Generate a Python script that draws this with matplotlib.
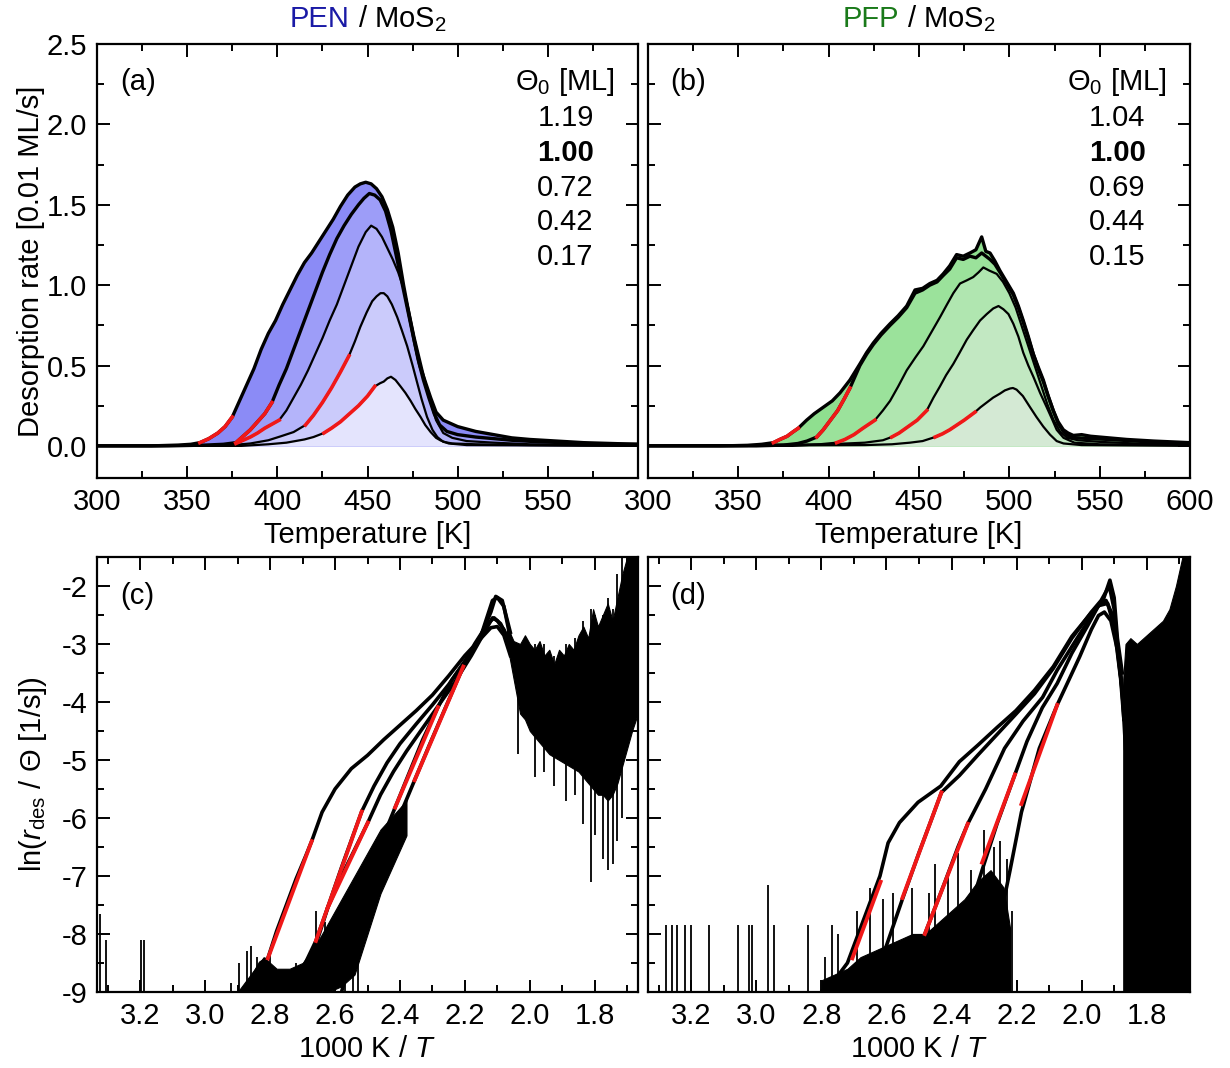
import numpy as np
import matplotlib
matplotlib.use("Agg")
import matplotlib.pyplot as plt
from matplotlib.ticker import MultipleLocator, FixedLocator

plt.rcParams['font.family'] = ['Liberation Sans', 'DejaVu Sans']
plt.rcParams['mathtext.fontset'] = 'custom'
plt.rcParams['mathtext.rm'] = 'Liberation Sans'
plt.rcParams['mathtext.it'] = 'Liberation Sans:italic'
plt.rcParams['mathtext.bf'] = 'Liberation Sans:bold'
plt.rcParams['axes.unicode_minus'] = False
FS = 21

###### Panel (a): PEN / MoS2, TPD traces (rate in 0.01 ML/s) ######
pen_cov = ["1.19", "1.00", "0.72", "0.42", "0.17"]
pen_T119 = [300, 330, 345, 352, 357, 362, 367, 371, 375, 379, 383, 387, 391, 395, 399, 403, 407, 411, 415, 419,
            423, 427, 431, 435, 439, 443, 446, 449, 452, 455, 458, 461, 464, 467, 470, 473, 476, 479, 482, 485,
            488, 492, 496, 500, 510, 520, 530, 540, 555, 570, 585, 600]
pen_r119 = [0.0, 0.0, 0.005, 0.01, 0.02, 0.045, 0.08, 0.12, 0.18, 0.28, 0.38, 0.48, 0.60, 0.70, 0.78, 0.88, 0.97,
            1.06, 1.14, 1.20, 1.27, 1.34, 1.41, 1.49, 1.56, 1.61, 1.63, 1.64, 1.63, 1.60, 1.55, 1.47, 1.36, 1.20,
            1.00, 0.82, 0.65, 0.50, 0.40, 0.30, 0.21, 0.16, 0.14, 0.12, 0.09, 0.07, 0.05, 0.04, 0.03, 0.02, 0.015, 0.01]
pen_T100 = [300, 340, 360, 370, 377, 381, 385, 389, 393, 397, 401, 405, 409, 413, 417, 421, 425, 429, 433, 437,
            441, 445, 448, 451, 454, 457, 460, 463, 466, 469, 472, 475, 478, 481, 484, 487, 490, 494, 500, 510,
            520, 530, 545, 560, 580, 600]
pen_r100 = [0.0, 0.0, 0.005, 0.01, 0.02, 0.06, 0.10, 0.15, 0.20, 0.27, 0.38, 0.48, 0.60, 0.72, 0.84, 0.96, 1.08,
            1.19, 1.29, 1.37, 1.44, 1.50, 1.54, 1.57, 1.56, 1.53, 1.46, 1.34, 1.18, 1.02, 0.86, 0.70, 0.54, 0.41,
            0.30, 0.20, 0.13, 0.09, 0.07, 0.055, 0.045, 0.035, 0.025, 0.02, 0.01, 0.01]
pen_T072 = [300, 350, 365, 372, 377, 381, 385, 389, 393, 397, 401, 405, 409, 413, 417, 421, 425, 429, 433, 437,
            441, 445, 449, 452, 455, 458, 461, 464, 467, 470, 473, 476, 479, 482, 485, 488, 492, 497, 505, 520,
            540, 570, 600]
pen_r072 = [0, 0, 0.003, 0.008, 0.015, 0.035, 0.055, 0.08, 0.11, 0.135, 0.16, 0.22, 0.30, 0.38, 0.47, 0.57, 0.67,
            0.78, 0.88, 1.00, 1.12, 1.24, 1.33, 1.37, 1.35, 1.30, 1.23, 1.16, 1.08, 0.98, 0.84, 0.68, 0.54, 0.40,
            0.27, 0.16, 0.08, 0.05, 0.03, 0.02, 0.01, 0.005, 0.005]
pen_T042 = [300, 360, 375, 385, 395, 402, 409, 415.6, 420, 425, 430, 435, 439.7, 443, 446, 449.5, 452.6, 455,
            457.2, 459, 461, 463.5, 466.5, 469, 472, 475, 477.6, 480, 483, 486, 488.7, 492, 497, 510, 540, 600]
pen_r042 = [0, 0, 0.005, 0.015, 0.035, 0.06, 0.086, 0.13, 0.19, 0.27, 0.36, 0.46, 0.56, 0.65, 0.74, 0.83, 0.90,
            0.93, 0.95, 0.95, 0.93, 0.88, 0.80, 0.72, 0.62, 0.50, 0.39, 0.29, 0.18, 0.10, 0.055, 0.025, 0.015, 0.01,
            0.005, 0.0]
pen_T017 = [300, 380, 395, 405, 415, 420, 425.8, 430, 435, 440, 445, 450, 454, 457, 459, 461, 463, 465.5, 468.3,
            471, 473.9, 476.5, 479.4, 482, 485, 488, 490.5, 495, 505, 600]
pen_r017 = [0, 0, 0.01, 0.02, 0.04, 0.055, 0.08, 0.11, 0.15, 0.20, 0.25, 0.31, 0.37, 0.39, 0.40, 0.42, 0.43, 0.41,
            0.37, 0.33, 0.28, 0.23, 0.18, 0.13, 0.086, 0.05, 0.034, 0.015, 0.005, 0.0]
pen_red_lo = [357, 377, 377, 415.6, 425.8]
pen_red_hi = [375, 397, 401, 439.7, 454]

###### Panel (b): PFP / MoS2 ######
pfp_cov = ["1.04", "1.00", "0.69", "0.44", "0.15"]
pfp_T104 = [300, 340, 355, 363, 369.4, 373, 377, 380, 383.2, 387.8, 392, 397, 402, 406.3, 411.8, 417.3, 421,
            424.7, 429, 434, 438.5, 443.2, 447.8, 452, 456, 460, 463.4, 467, 470.8, 474.5, 478.2, 481.5, 484.7,
            487, 489.3, 492, 494.8, 498.5, 502.2, 505, 507.7, 510.5, 513.3, 516, 518.8, 521.5, 524.3, 527, 529.9,
            532.5, 535.4, 540, 545, 555, 565, 580, 600]
pfp_r104 = [0, 0, 0.003, 0.01, 0.02, 0.04, 0.06, 0.085, 0.11, 0.16, 0.20, 0.24, 0.28, 0.33, 0.41, 0.51, 0.58,
            0.64, 0.70, 0.76, 0.81, 0.87, 0.97, 0.98, 1.01, 1.03, 1.07, 1.12, 1.19, 1.18, 1.20, 1.22, 1.30, 1.21,
            1.20, 1.15, 1.09, 1.02, 0.95, 0.87, 0.78, 0.68, 0.57, 0.49, 0.41, 0.31, 0.22, 0.15, 0.10, 0.08, 0.065,
            0.07, 0.06, 0.05, 0.04, 0.03, 0.02]
pfp_T100 = [300, 360, 375, 383, 388, 393.4, 397, 401, 405, 408.5, 411.8, 417.3, 421, 424.7, 429, 434, 438.5,
            443.2, 447.8, 452, 456, 460, 463.4, 467, 470.8, 474.5, 478.2, 481.5, 484.7, 487, 489.3, 492, 494.8,
            498.5, 502.2, 505, 507.7, 510.5, 513.3, 516, 518.8, 521.5, 524.3, 527, 529.9, 533, 537, 545, 555,
            570, 585, 600]
pfp_r100 = [0, 0, 0.005, 0.015, 0.03, 0.055, 0.10, 0.16, 0.22, 0.29, 0.36, 0.50, 0.57, 0.63, 0.69, 0.75, 0.80,
            0.86, 0.95, 0.97, 1.00, 1.02, 1.06, 1.10, 1.17, 1.16, 1.18, 1.17, 1.20, 1.18, 1.16, 1.13, 1.08, 1.01,
            0.94, 0.86, 0.77, 0.67, 0.57, 0.48, 0.40, 0.31, 0.22, 0.14, 0.09, 0.06, 0.05, 0.045, 0.04, 0.03, 0.02,
            0.015]
pfp_T069 = [300, 380, 395, 404.4, 409, 414, 419, 425.6, 430, 434, 438.5, 443.2, 448, 452.4, 457, 461.6, 465.5,
            469, 472.7, 476.5, 480, 483, 485.6, 489, 493, 496.5, 500, 503.5, 507, 510.5, 514, 517.5, 521, 524.5,
            528, 532, 538, 550, 570, 600]
pfp_r069 = [0, 0, 0.01, 0.02, 0.04, 0.07, 0.11, 0.16, 0.22, 0.28, 0.37, 0.47, 0.55, 0.62, 0.71, 0.80, 0.88, 0.95,
            1.01, 1.03, 1.05, 1.08, 1.11, 1.09, 1.07, 1.02, 0.95, 0.86, 0.74, 0.62, 0.50, 0.38, 0.26, 0.16, 0.09,
            0.05, 0.035, 0.025, 0.015, 0.01]
pfp_T044 = [300, 400, 420, 430, 434.9, 439, 444, 449, 454.3, 458, 461.6, 465, 469, 472.5, 476.4, 480, 483.8,
            487.5, 491.1, 494, 496.7, 499.5, 502.2, 505, 507.7, 510.5, 513.3, 517, 520.7, 523.5, 526.2, 530, 536,
            550, 600]
pfp_r044 = [0, 0.01, 0.02, 0.035, 0.055, 0.08, 0.12, 0.16, 0.22, 0.30, 0.37, 0.44, 0.51, 0.58, 0.66, 0.72, 0.78,
            0.82, 0.855, 0.87, 0.85, 0.82, 0.76, 0.68, 0.58, 0.50, 0.43, 0.33, 0.24, 0.17, 0.10, 0.05, 0.02, 0.01,
            0.005]
pfp_T015 = [300, 420, 435, 445, 452, 458.9, 463, 467, 471, 475, 478, 481, 484, 487.5, 491, 494.8, 497.5, 500.4,
            502, 504, 507.5, 511.5, 515, 518.8, 522.5, 526.2, 530, 540, 600]
pfp_r015 = [0, 0.005, 0.01, 0.02, 0.03, 0.055, 0.075, 0.10, 0.13, 0.16, 0.185, 0.21, 0.24, 0.27, 0.30, 0.325,
            0.345, 0.357, 0.36, 0.35, 0.31, 0.24, 0.18, 0.12, 0.07, 0.03, 0.015, 0.005, 0.0]
pfp_red_lo = [369.4, 393.4, 404.4, 434.9, 458.9]
pfp_red_hi = [383.2, 411.8, 425.6, 454.3, 481]

###### Panel (c): ln(r/Theta) vs 1000/T, PEN ######
c_x = [
    [2.88, 2.85, 2.83, 2.807, 2.78, 2.75, 2.72, 2.69, 2.672, 2.64, 2.60, 2.55, 2.50, 2.45, 2.40, 2.35, 2.30, 2.25,
     2.20, 2.15, 2.12, 2.10, 2.08, 2.06],
    [2.75, 2.70, 2.659, 2.62, 2.58, 2.518, 2.48, 2.44, 2.40, 2.35, 2.30, 2.25, 2.20, 2.15, 2.12, 2.105, 2.085, 2.06],
    [2.70, 2.66, 2.622, 2.58, 2.54, 2.499, 2.46, 2.42, 2.38, 2.33, 2.28, 2.23, 2.18, 2.14, 2.115, 2.10, 2.08, 2.06],
    [2.63, 2.60, 2.55, 2.50, 2.45, 2.415, 2.37, 2.33, 2.283, 2.24, 2.20, 2.15, 2.115, 2.10, 2.08, 2.06],
    [2.58, 2.55, 2.50, 2.45, 2.40, 2.355, 2.31, 2.26, 2.205, 2.17, 2.13, 2.11, 2.09, 2.06],
]
c_y = [
    [-9.0, -8.7, -8.5, -8.42, -7.95, -7.5, -7.05, -6.65, -6.40, -5.9, -5.5, -5.15, -4.92, -4.65, -4.40, -4.15,
     -3.88, -3.55, -3.20, -2.90, -2.72, -2.70, -2.85, -3.2],
    [-9.0, -8.6, -8.12, -7.5, -6.85, -5.89, -5.45, -5.05, -4.72, -4.38, -4.05, -3.70, -3.30, -2.85, -2.45, -2.18,
     -2.25, -2.8],
    [-9.0, -8.2, -7.54, -7.0, -6.55, -6.08, -5.6, -5.2, -4.85, -4.45, -4.05, -3.65, -3.2, -2.8, -2.55, -2.6,
     -2.75, -3.0],
    [-9.0, -8.6, -7.8, -7.0, -6.3, -5.82, -5.2, -4.65, -4.09, -3.62, -3.3, -2.85, -2.25, -2.2, -2.35, -2.9],
    [-9.0, -8.4, -7.5, -6.6, -5.95, -5.35, -4.75, -4.1, -3.39, -3.0, -2.65, -2.55, -2.65, -3.0],
]
c_fit_x0 = [2.807, 2.659, 2.622, 2.415, 2.355]
c_fit_x1 = [2.672, 2.518, 2.499, 2.283, 2.205]
c_fit_y0 = [-8.42, -8.12, -7.54, -5.82, -5.35]
c_fit_y1 = [-6.40, -5.89, -6.08, -4.09, -3.39]
# noise bands (dense scatter of the raw data)
c_hi_x = [2.07, 2.05, 2.03, 2.015, 2.00, 1.985, 1.97, 1.955, 1.94, 1.925, 1.91, 1.895, 1.88, 1.865, 1.85, 1.835,
          1.82, 1.805, 1.79, 1.775, 1.76, 1.745, 1.73, 1.715, 1.70, 1.685, 1.667]
c_hi_up = [-2.7, -2.95, -3.0, -2.85, -3.0, -3.1, -2.95, -3.2, -3.1, -3.35, -3.1, -3.2, -3.0, -3.1, -2.85, -2.7,
           -2.9, -2.4, -2.7, -2.5, -2.3, -2.6, -2.2, -1.8, -1.5, -1.5, -1.5]
c_hi_lo = [-3.0, -3.6, -4.2, -4.3, -4.5, -4.6, -4.7, -4.8, -4.9, -4.95, -5.0, -5.05, -5.1, -5.15, -5.2, -5.3,
           -5.4, -5.5, -5.6, -5.6, -5.7, -5.6, -5.4, -5.1, -4.8, -4.5, -4.2]
c_lo_x = [2.90, 2.86, 2.82, 2.78, 2.74, 2.70, 2.66, 2.62, 2.58, 2.54, 2.50, 2.46, 2.42, 2.38]
c_lo_up = [-9.0, -8.7, -8.4, -8.6, -8.6, -8.5, -8.2, -7.8, -7.4, -7.0, -6.6, -6.2, -5.95, -5.7]
c_lo_lo = [-9.0, -9.0, -9.0, -9.0, -9.0, -9.0, -9.0, -9.0, -8.9, -8.7, -8.0, -7.3, -6.8, -6.3]
c_spk_x = [3.325, 3.305, 3.197, 3.19, 2.92, 2.895, 2.87, 2.86, 2.84, 2.80, 2.76, 2.72, 2.66, 2.63, 2.57, 2.545,
           2.53, 2.035, 1.985, 1.955, 1.925, 1.89, 1.86, 1.835, 1.81, 1.80, 1.775, 1.76, 1.745, 1.73, 1.715]
c_spk_lo = [-9, -9, -9, -9, -9, -9, -9, -9, -9, -9, -9, -9, -9, -9, -9, -9, -9, -4.9, -5.3, -5.2, -5.45, -5.7,
            -5.6, -6.1, -7.1, -6.3, -6.7, -6.9, -6.8, -6.4, -6.0]
c_spk_hi = [-7.65, -8.1, -8.1, -8.1, -8.85, -8.5, -8.3, -8.2, -8.4, -8.3, -8.7, -8.5, -7.6, -7.8, -7.4, -7.1,
            -7.0, -3.0, -3.0, -3.0, -3.2, -3.0, -2.9, -2.6, -2.4, -2.5, -2.5, -2.2, -2.4, -1.8, -1.5]

###### Panel (d): ln(r/Theta) vs 1000/T, PFP ######
d_x = [
    [2.80, 2.76, 2.72, 2.68, 2.64, 2.62, 2.595, 2.56, 2.503, 2.433, 2.376, 2.318, 2.26, 2.202, 2.145, 2.087, 2.03,
     1.97, 1.936, 1.913, 1.90, 1.89, 1.875],
    [2.66, 2.60, 2.551, 2.50, 2.46, 2.431, 2.376, 2.318, 2.26, 2.202, 2.145, 2.087, 2.03, 1.97, 1.94, 1.915, 1.90,
     1.885, 1.87],
    [2.56, 2.52, 2.482, 2.42, 2.38, 2.35, 2.295, 2.237, 2.18, 2.12, 2.075, 2.017, 1.97, 1.948, 1.92, 1.90, 1.88,
     1.87],
    [2.42, 2.38, 2.34, 2.306, 2.26, 2.205, 2.168, 2.121, 2.075, 2.03, 1.982, 1.948, 1.925, 1.905, 1.885, 1.87],
    [2.30, 2.26, 2.22, 2.185, 2.13, 2.075, 2.04, 2.006, 1.97, 1.948, 1.93, 1.91, 1.89, 1.875, 1.865],
]
d_y = [
    [-9.0, -8.8, -8.5, -7.9, -7.3, -7.0, -6.43, -6.08, -5.73, -5.45, -5.03, -4.74, -4.44, -4.15, -3.80, -3.39,
     -2.87, -2.46, -2.28, -1.9, -2.2, -2.9, -3.5],
    [-9.0, -8.2, -7.4, -6.6, -6.0, -5.56, -5.27, -4.91, -4.56, -4.21, -3.86, -3.42, -2.9, -2.45, -2.25, -2.0,
     -2.4, -3.3, -4.0],
    [-9.0, -8.6, -8.0, -7.1, -6.5, -6.1, -5.5, -4.8, -4.33, -3.92, -3.45, -2.93, -2.52, -2.34, -2.3, -2.7, -3.6,
     -4.3],
    [-9.0, -8.4, -7.5, -6.9, -6.1, -5.25, -4.68, -4.10, -3.68, -3.16, -2.69, -2.34, -2.25, -2.5, -3.2, -4.2],
    [-9.0, -8.0, -6.9, -5.9, -4.8, -4.05, -3.63, -3.22, -2.75, -2.51, -2.45, -2.6, -3.1, -3.8, -4.8],
]
d_fit_x0 = [2.705, 2.551, 2.482, 2.306, 2.185]
d_fit_x1 = [2.618, 2.431, 2.350, 2.205, 2.075]
d_fit_y0 = [-8.42, -7.38, -8.0, -6.77, -5.76]
d_fit_y1 = [-7.10, -5.56, -6.10, -5.25, -4.05]
d_hi_x = [1.872, 1.865, 1.85, 1.83, 1.81, 1.79, 1.77, 1.75, 1.73, 1.71, 1.69, 1.667]
d_hi_up = [-3.6, -3.0, -2.9, -3.0, -2.9, -2.8, -2.7, -2.6, -2.4, -2.0, -1.5, -1.5]
d_hi_lo = [-9.0, -9.0, -9.0, -9.0, -9.0, -9.0, -9.0, -9.0, -9.0, -9.0, -9.0, -9.0]
d_lo_x = [2.80, 2.76, 2.72, 2.68, 2.64, 2.60, 2.56, 2.52, 2.48, 2.44, 2.40, 2.36, 2.32, 2.28, 2.24, 2.22]
d_lo_up = [-8.8, -8.7, -8.6, -8.4, -8.3, -8.2, -8.1, -8.0, -8.0, -7.8, -7.6, -7.4, -7.1, -6.9, -7.2, -7.9]
d_lo_lo = [-9.0] * 16
d_spk_x = [3.277, 3.26, 3.243, 3.22, 3.202, 3.145, 3.055, 3.023, 3.012, 2.965, 2.946, 2.842, 2.79, 2.769, 2.75,
           2.69, 2.65, 2.61, 2.58, 2.52, 2.47, 2.45, 2.41, 2.38, 2.34, 2.30, 2.27, 2.25, 2.23, 2.215]
d_spk_lo = [-9] * 30
d_spk_hi = [-7.84, -7.84, -7.84, -7.84, -7.84, -7.84, -7.84, -7.84, -7.84, -7.16, -7.84, -7.84, -8.4, -7.84,
            -8.0, -7.6, -7.2, -7.4, -7.3, -7.2, -7.3, -6.8, -7.0, -6.6, -6.9, -6.2, -6.5, -6.4, -6.7, -7.6]

pen_fill = ['#8b8bf6', '#9d9df8', '#b4b4fa', '#cbcbfb', '#e4e4fd']
pfp_fill = ['#8fdf8f', '#9be29b', '#b0e6b0', '#c2e8c2', '#d4e9d4']
red = '#f01818'


def style(ax):
    ax.tick_params(which='both', direction='in', top=True, right=True, width=1.4, labelsize=FS, pad=7)
    ax.tick_params(which='major', length=9)
    ax.tick_params(which='minor', length=5)
    for s in ax.spines.values():
        s.set_linewidth(1.6)


def tpd_panel(ax, Ts, rs, fills, red_lo, red_hi, covs, letter):
    for T, r, c in zip(Ts, rs, fills):
        ax.fill_between(T, r, 0, color=c, lw=0)
    for i, (T, r) in enumerate(zip(Ts, rs)):
        ax.plot(T, r, color='k', lw=2.4 if i <= 1 else 1.6, zorder=3)
    for T, r, lo, hi in zip(Ts, rs, red_lo, red_hi):
        T = np.array(T)
        r = np.array(r)
        m = (T >= lo) & (T <= hi)
        ax.plot(T[m], r[m], color=red, lw=2.6, zorder=4)
    ax.set_xlim(300, 600)
    ax.set_ylim(-0.2, 2.5)
    ax.xaxis.set_major_locator(MultipleLocator(50))
    ax.xaxis.set_minor_locator(MultipleLocator(25))
    ax.yaxis.set_major_locator(MultipleLocator(0.5))
    ax.yaxis.set_minor_locator(MultipleLocator(0.25))
    ax.set_xlabel('Temperature [K]', fontsize=FS, labelpad=4)
    ax.text(0.042, 0.912, letter, transform=ax.transAxes, fontsize=FS, va='center')
    ax.text(0.957, 0.912, r'$\Theta_0$ [ML]', transform=ax.transAxes, fontsize=FS, ha='right', va='center')
    ys = [0.829, 0.749, 0.668, 0.590, 0.509]
    for k, (cv, yy) in enumerate(zip(covs, ys)):
        ax.text(0.918, yy, cv, transform=ax.transAxes, fontsize=FS, ha='right', va='center',
                fontweight='bold' if k == 1 else 'normal')
    style(ax)


def arr_panel(ax, xs, ys, fx0, fx1, fy0, fy1, hx, hup, hlo, lx, lup, llo, sx, slo, shi, letter):
    ax.fill_between(hx, hlo, hup, color='k', lw=0.8)
    ax.fill_between(lx, llo, lup, color='k', lw=0.8)
    ax.vlines(sx, slo, shi, color='k', lw=1.3)
    for x, y in zip(xs, ys):
        ax.plot(x, y, color='k', lw=2.6)
    for a, b, c, d in zip(fx0, fx1, fy0, fy1):
        ax.plot([a, b], [c, d], color=red, lw=2.8, zorder=4)
    ax.set_xlim(1000 / 300, 1000 / 600)
    ax.set_ylim(-9, -1.5)
    ax.xaxis.set_major_locator(FixedLocator([3.2, 3.0, 2.8, 2.6, 2.4, 2.2, 2.0, 1.8]))
    ax.xaxis.set_minor_locator(FixedLocator([3.3, 3.1, 2.9, 2.7, 2.5, 2.3, 2.1, 1.9, 1.7]))
    ax.yaxis.set_major_locator(MultipleLocator(1))
    ax.yaxis.set_minor_locator(MultipleLocator(0.5))
    ax.set_xticklabels(['3.2', '3.0', '2.8', '2.6', '2.4', '2.2', '2.0', '1.8'])
    ax.set_xlabel('1000 K / $T$', fontsize=FS, labelpad=4)
    ax.text(0.042, 0.91, letter, transform=ax.transAxes, fontsize=FS, va='center')
    style(ax)


fig = plt.figure(figsize=(12.3, 10.68), dpi=100)
ax_a = fig.add_axes([0.0789, 0.5524, 0.4398, 0.4064])
ax_b = fig.add_axes([0.5268, 0.5524, 0.4407, 0.4064])
ax_c = fig.add_axes([0.0789, 0.0712, 0.4398, 0.4073])
ax_d = fig.add_axes([0.5268, 0.0712, 0.4407, 0.4073])

tpd_panel(ax_a, [pen_T119, pen_T100, pen_T072, pen_T042, pen_T017],
          [pen_r119, pen_r100, pen_r072, pen_r042, pen_r017], pen_fill, pen_red_lo, pen_red_hi, pen_cov, '(a)')
tpd_panel(ax_b, [pfp_T104, pfp_T100, pfp_T069, pfp_T044, pfp_T015],
          [pfp_r104, pfp_r100, pfp_r069, pfp_r044, pfp_r015], pfp_fill, pfp_red_lo, pfp_red_hi, pfp_cov, '(b)')
ax_a.set_xticks([300, 350, 400, 450, 500, 550, 600])
ax_a.set_xticklabels(['300', '350', '400', '450', '500', '550', ''])
ax_a.set_ylabel('Desorption rate [0.01 ML/s]', fontsize=FS, labelpad=1)
ax_b.tick_params(labelleft=False)

arr_panel(ax_c, c_x, c_y, c_fit_x0, c_fit_x1, c_fit_y0, c_fit_y1, c_hi_x, c_hi_up, c_hi_lo,
          c_lo_x, c_lo_up, c_lo_lo, c_spk_x, c_spk_lo, c_spk_hi, '(c)')
arr_panel(ax_d, d_x, d_y, d_fit_x0, d_fit_x1, d_fit_y0, d_fit_y1, d_hi_x, d_hi_up, d_hi_lo,
          d_lo_x, d_lo_up, d_lo_lo, d_spk_x, d_spk_lo, d_spk_hi, '(d)')
ax_c.set_ylabel(r'ln($r_{\rm des}$ / $\Theta$ [1/s])', fontsize=FS, labelpad=9)
ax_d.tick_params(labelleft=False)

# titles with coloured molecule name
ax_a.text(0.467, 1.039, 'PEN', color='#1a1aa6', transform=ax_a.transAxes, fontsize=FS, ha='right', va='baseline')
ax_a.text(0.467, 1.039, ' / MoS$_2$', color='k', transform=ax_a.transAxes, fontsize=FS, ha='left', va='baseline')
ax_b.text(0.464, 1.039, 'PFP', color='#1a7a1a', transform=ax_b.transAxes, fontsize=FS, ha='right', va='baseline')
ax_b.text(0.464, 1.039, ' / MoS$_2$', color='k', transform=ax_b.transAxes, fontsize=FS, ha='left', va='baseline')

fig.savefig('out.png', dpi=100)
